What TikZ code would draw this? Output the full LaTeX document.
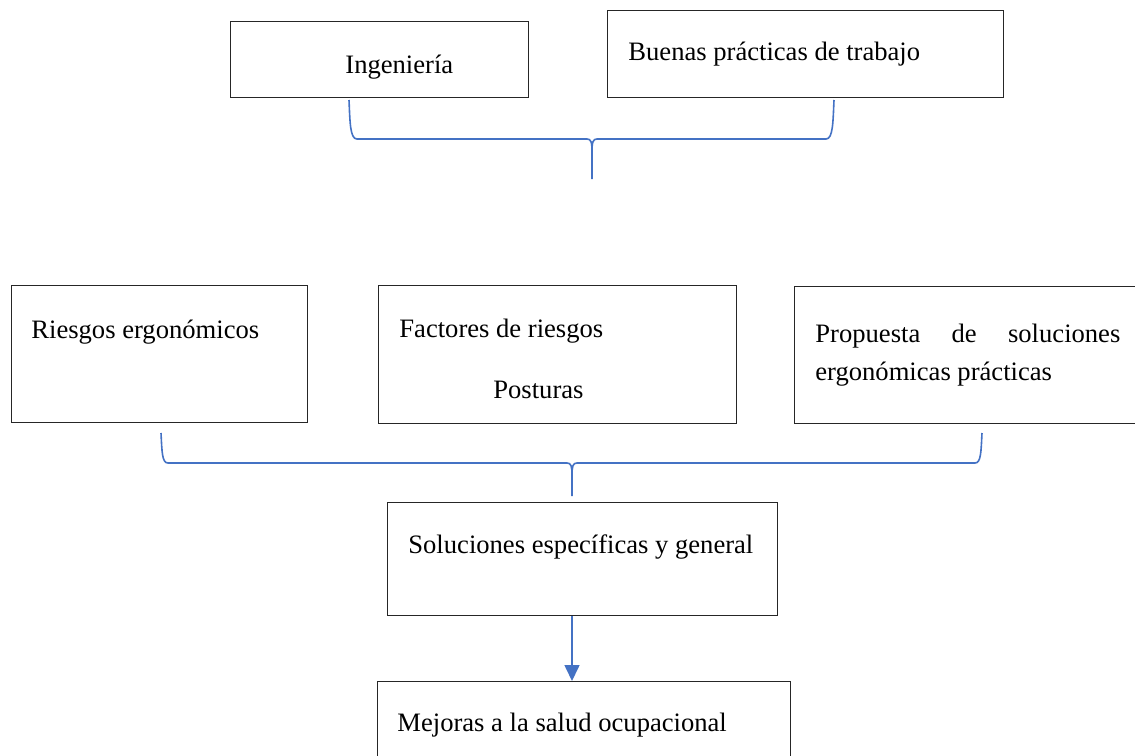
\documentclass[tikz,border=0pt]{standalone}
\usepackage{fontspec}
\setmainfont{Liberation Serif}
\usetikzlibrary{arrows.meta}
\definecolor{obl}{HTML}{4472C4}
\begin{document}
\begin{tikzpicture}[x=0.5pt,y=-0.5pt,
  box/.style={draw=black!85,line width=0.7pt,rectangle,inner sep=0pt,anchor=north west},
  txt/.style={anchor=base west,inner sep=0pt,font=\fontsize{13.3}{16}\selectfont},
  brace/.style={draw=obl,line width=0.8pt},
  conn/.style={draw=obl,line width=0.8pt,-{Triangle[width=7.5pt,length=8pt]}}]
\useasboundingbox (0,0) rectangle (1135,755);
% boxes
\node[box,minimum width=149pt,minimum height=38pt] (ing) at (230,21) {};
\node[box,minimum width=198pt,minimum height=43.5pt] (bue) at (607,10) {};
\node[box,minimum width=148pt,minimum height=68.5pt] (rie) at (11,285) {};
\node[box,minimum width=179pt,minimum height=69pt] (fac) at (378,285) {};
\node[box,minimum width=178pt,minimum height=68.5pt] (pro) at (794,286) {};
\node[box,minimum width=195pt,minimum height=56.5pt] (sol) at (387,502) {};
\node[box,minimum width=206.5pt,minimum height=44.5pt] (mej) at (377,681) {};
% texts
\node[txt] (t1) at (345,73) {Ingeniería};
\node[txt] (t2) at (628,61) {Buenas prácticas de trabajo};
\node[txt] (t3) at (31,338) {Riesgos ergonómicos};
\node[txt] (t4) at (399,337) {Factores de riesgos};
\node[txt] (t5) at (493,398) {Posturas};
\node[txt] (t6) at (815,342) {\hbox to 152.5pt{Propuesta\hfil de\hfil soluciones}};
\node[txt] (t7) at (815,380) {ergonómicas prácticas};
\node[txt] (t8) at (408,553) {Soluciones específicas y general};
\node[txt] (t9) at (397,731) {Mejoras a la salud ocupacional};
% top brace
\coordinate (b1l) at (349,100);
\coordinate (b1r) at (834,100);
\coordinate (b1t) at (592,179);
\path[brace] (b1l) .. controls (350,122) and (350,139) .. (357,139) -- (587,139)
  .. controls (591,139) and (592,142) .. (592,152) -- (b1t);
\path[brace] (b1r) .. controls (833,122) and (833,139) .. (826,139) -- (597,139)
  .. controls (593,139) and (592,142) .. (592,152);
% lower brace
\coordinate (b2l) at (161,433);
\coordinate (b2r) at (982,433);
\coordinate (b2t) at (572,496);
\path[brace] (b2l) .. controls (162,452) and (162,463) .. (168,463) -- (567,463)
  .. controls (571,463) and (572,466) .. (572,475) -- (b2t);
\path[brace] (b2r) .. controls (981,452) and (981,463) .. (975,463) -- (577,463)
  .. controls (573,463) and (572,466) .. (572,475);
% arrow
\path[conn] (sol.south -| b2t) -- (mej.north -| b2t);
\end{tikzpicture}
\end{document}
